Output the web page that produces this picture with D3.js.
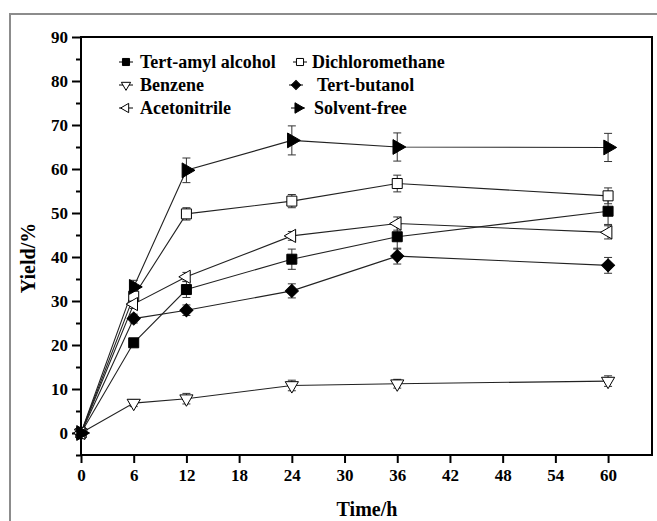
<!DOCTYPE html>
<html>
<head>
<meta charset="utf-8">
<script src="https://cdn.jsdelivr.net/npm/d3@7"></script>
<style>
  body { margin: 0; background: #fff; }
  text { font-family: "Liberation Serif", "Times New Roman", serif; font-weight: bold; }
</style>
</head>
<body>
<svg id="chart" width="657" height="521"></svg>
<script>
// data
const times = [0, 6, 12, 24, 36, 60];
const xTicks = [0, 6, 12, 18, 24, 30, 36, 42, 48, 54, 60];
const yTicks = [0, 10, 20, 30, 40, 50, 60, 70, 80, 90];

const tertAmyl = [0, 20.5, 32.6, 39.5, 44.6, 50.4];
const tertAmylErr = [0.3, 0.8, 1.8, 2.3, 2.8, 3.0];
const dichloromethane = [0, 31.1, 49.8, 52.7, 56.7, 53.9];
const dichloromethaneErr = [0.3, 1.2, 1.4, 1.5, 1.9, 1.8];
const benzene = [0, 6.8, 7.8, 10.8, 11.2, 11.8];
const benzeneErr = [0.3, 0.8, 1.2, 1.2, 1.0, 1.2];
const tertButanol = [0, 26.0, 27.9, 32.3, 40.2, 38.1];
const tertButanolErr = [0.3, 1.0, 1.2, 1.6, 1.8, 1.8];
const acetonitrile = [0, 29.3, 35.5, 44.8, 47.6, 45.6];
const acetonitrileErr = [0.3, 1.0, 1.0, 1.0, 1.5, 1.5];
const solventFree = [0, 33.2, 59.7, 66.5, 65.0, 64.9];
const solventFreeErr = [0.3, 1.5, 2.8, 3.3, 3.2, 3.2];

const seriesNames = ["Tert-amyl alcohol", "Dichloromethane", "Benzene", "Tert-butanol", "Acetonitrile", "Solvent-free"];

const svg = d3.select("#chart");

// outer gray frame of the figure
svg.append("rect")
  .attr("x", 10).attr("y", 14)
  .attr("width", 700).attr("height", 600)
  .attr("fill", "none").attr("stroke", "#8c8c8c").attr("stroke-width", 2);

const x = d3.scaleLinear().domain([0, 65]).range([81, 652]);
const y = d3.scaleLinear().domain([-5, 90]).range([455, 37]);

// plot box
svg.append("rect")
  .attr("x", x(0)).attr("y", y(90))
  .attr("width", x(65) - x(0)).attr("height", y(-5) - y(90))
  .attr("fill", "none").attr("stroke", "#000").attr("stroke-width", 2);

// axes
const xAxis = svg.append("g")
  .attr("transform", `translate(0,${y(-5)})`)
  .call(d3.axisBottom(x).tickValues(xTicks).tickSize(8).tickPadding(6).tickFormat(d3.format("d")));
const yAxis = svg.append("g")
  .attr("transform", `translate(${x(0)},0)`)
  .call(d3.axisLeft(y).tickValues(yTicks).tickSize(9).tickPadding(4).tickFormat(d3.format("d")));
const yMinor = svg.append("g")
  .attr("transform", `translate(${x(0)},0)`)
  .call(d3.axisLeft(y).tickValues([-5, 5, 15, 25, 35, 45, 55, 65, 75, 85]).tickSize(5).tickFormat(""));

[xAxis, yAxis, yMinor].forEach(g => {
  g.select(".domain").remove();
  g.selectAll("line").attr("stroke", "#000").attr("stroke-width", 2);
  g.selectAll("text").attr("font-size", 17).attr("fill", "#000")
    .style("font-family", "'Liberation Serif', serif").style("font-weight", "bold");
});

// axis titles
svg.append("text")
  .attr("x", 367).attr("y", 516)
  .attr("text-anchor", "middle").attr("font-size", 20)
  .text("Time/h");
svg.append("text")
  .attr("transform", "translate(35,258) rotate(-90)")
  .attr("text-anchor", "middle").attr("font-size", 20)
  .text("Yield/%");

// marker shapes
const tri = d3.symbol().type(d3.symbolTriangle);
const sq = d3.symbol().type(d3.symbolSquare);
const styles = [
  { shape: sq, size: 100, rot: 0, fill: "#000" },
  { shape: sq, size: 100, rot: 0, fill: "#fff" },
  { shape: tri, size: 75, rot: 180, fill: "#fff" },
  { shape: sq, size: 85, rot: 45, fill: "#000" },
  { shape: tri, size: 75, rot: -90, fill: "#fff" },
  { shape: tri, size: 95, rot: 90, fill: "#000" }
];

const allValues = [tertAmyl, dichloromethane, benzene, tertButanol, acetonitrile, solventFree];
const allErrors = [tertAmylErr, dichloromethaneErr, benzeneErr, tertButanolErr, acetonitrileErr, solventFreeErr];

const line = d3.line().x(d => x(d.t)).y(d => y(d.v));

allValues.forEach((vals, i) => {
  const pts = times.map((t, j) => ({ t: t, v: vals[j], e: allErrors[i][j] }));
  svg.append("path")
    .datum(pts)
    .attr("d", line)
    .attr("fill", "none").attr("stroke", "#222").attr("stroke-width", 1.1);
});

allValues.forEach((vals, i) => {
  const pts = times.map((t, j) => ({ t: t, v: vals[j], e: allErrors[i][j] }));
  const eb = svg.append("g").selectAll("g").data(pts.slice(1)).enter().append("g")
    .attr("stroke", "#333").attr("stroke-width", 1);
  eb.append("line")
    .attr("x1", d => x(d.t)).attr("x2", d => x(d.t))
    .attr("y1", d => y(d.v + d.e)).attr("y2", d => y(d.v - d.e));
  eb.append("line")
    .attr("x1", d => x(d.t) - 4).attr("x2", d => x(d.t) + 4)
    .attr("y1", d => y(d.v + d.e)).attr("y2", d => y(d.v + d.e));
  eb.append("line")
    .attr("x1", d => x(d.t) - 4).attr("x2", d => x(d.t) + 4)
    .attr("y1", d => y(d.v - d.e)).attr("y2", d => y(d.v - d.e));
});

allValues.forEach((vals, i) => {
  const s = styles[i];
  svg.append("g").selectAll("path").data(times.map((t, j) => ({ t: t, v: vals[j] })))
    .enter().append("path")
    .attr("d", s.shape.size(s.size)())
    .attr("transform", d => `translate(${x(d.t)},${y(d.v)}) rotate(${s.rot})`)
    .attr("fill", s.fill).attr("stroke", "#000").attr("stroke-width", 1);
});

// legend
const legendPos = [
  { sx: 126, tx: 140, y: 62 },
  { sx: 300, tx: 312, y: 62 },
  { sx: 126, tx: 140, y: 85 },
  { sx: 296, tx: 317, y: 85 },
  { sx: 126, tx: 140, y: 108 },
  { sx: 298, tx: 314, y: 108 }
];
seriesNames.forEach((name, i) => {
  const p = legendPos[i];
  const s = styles[i];
  const g = svg.append("g");
  g.append("line")
    .attr("x1", p.sx - 7).attr("x2", p.sx + 7)
    .attr("y1", p.y).attr("y2", p.y)
    .attr("stroke", "#000").attr("stroke-width", 1);
  g.append("path")
    .attr("d", s.shape.size(s.size * 0.5)())
    .attr("transform", `translate(${p.sx},${p.y}) rotate(${s.rot})`)
    .attr("fill", s.fill).attr("stroke", "#000").attr("stroke-width", 1);
  g.append("text")
    .attr("x", p.tx).attr("y", p.y + 5.5)
    .attr("font-size", 18)
    .text(name);
});
</script>
</body>
</html>
